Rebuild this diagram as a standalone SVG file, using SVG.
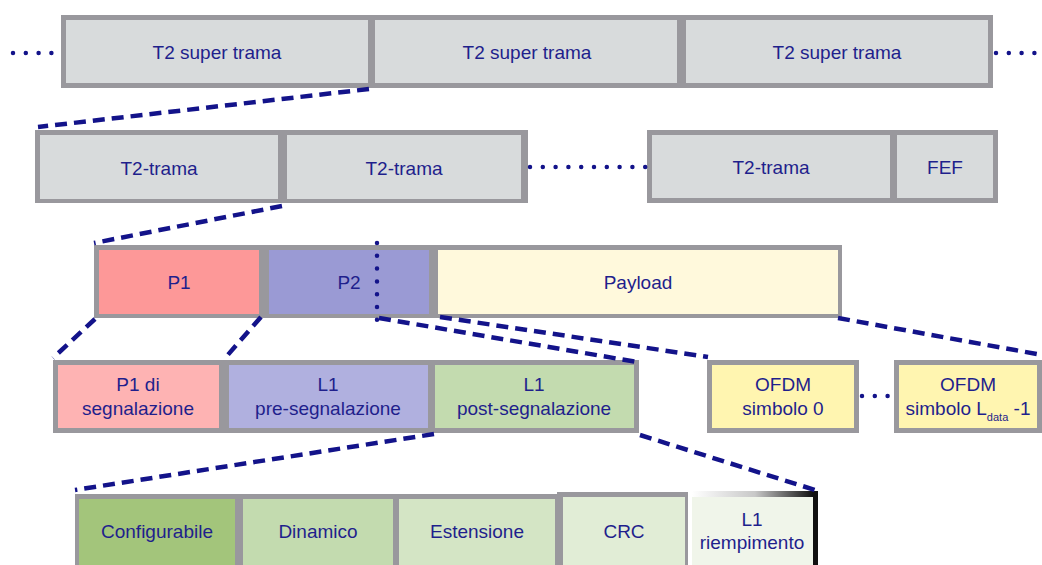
<svg xmlns="http://www.w3.org/2000/svg" width="1042" height="565" viewBox="0 0 1042 565">
<defs>
<style>
.frame{fill:#99989d}
.t{font-family:"Liberation Sans",Arial,sans-serif;font-size:19px;fill:#1f1f8c;text-anchor:middle}
.dash{stroke:#13138a;stroke-width:4.5;stroke-dasharray:12 7;fill:none}
.dot{stroke:#13138a;stroke-width:4.5;stroke-dasharray:0 12.8;stroke-linecap:round;fill:none}
.grey{fill:#d8dbdc}
</style>
<linearGradient id="fade" x1="0" y1="0" x2="1" y2="0">
<stop offset="0" stop-color="#ffffff"/>
<stop offset="0.5" stop-color="#c8c8c8"/>
<stop offset="1" stop-color="#000000"/>
</linearGradient>
</defs>
<rect width="1042" height="565" fill="#ffffff"/>

<g id="row1">
<rect class="frame" x="61" y="15" width="932" height="73"/>
<g id="superframe1"><rect class="grey" x="66" y="20" width="302" height="63"/><text class="t" x="217" y="59">T2 super trama</text></g>
<g id="superframe2"><rect class="grey" x="375" y="20" width="302" height="63"/><text class="t" x="527" y="59">T2 super trama</text></g>
<g id="superframe3"><rect class="grey" x="686" y="20" width="302" height="63"/><text class="t" x="837" y="59">T2 super trama</text></g>
</g>

<g id="row2">
<rect class="frame" x="35" y="130" width="493" height="73"/>
<rect class="frame" x="647" y="130" width="351" height="73"/>
<g id="frame1"><rect class="grey" x="40" y="135" width="238" height="64"/><text class="t" x="159" y="175">T2-trama</text></g>
<g id="frame2"><rect class="grey" x="287" y="135" width="234" height="64"/><text class="t" x="404" y="175">T2-trama</text></g>
<g id="frame3"><rect class="grey" x="652" y="135" width="238" height="63"/><text class="t" x="771" y="174">T2-trama</text></g>
<g id="fef"><rect class="grey" x="897" y="135" width="96" height="63"/><text class="t" x="945" y="174">FEF</text></g>
</g>

<g id="row3">
<rect class="frame" x="94" y="245" width="748" height="73"/>
<g id="p1"><rect x="99" y="250" width="160" height="64" fill="#fd9898"/><text class="t" x="179" y="289">P1</text></g>
<g id="p2"><rect x="269" y="250" width="160" height="64" fill="#9a9ad4"/><text class="t" x="349" y="289">P2</text></g>
<g id="payload"><rect x="438" y="250" width="400" height="64" fill="#fff9dc"/><text class="t" x="638" y="289">Payload</text></g>
</g>

<g id="row4">
<rect class="frame" x="53" y="360" width="586" height="73"/>
<g id="p1sig"><rect x="58" y="365" width="161" height="63" fill="#feb3b3"/><text class="t" x="138" y="391">P1 di</text><text class="t" x="138" y="415">segnalazione</text></g>
<g id="l1pre"><rect x="229" y="365" width="199" height="63" fill="#b0b0df"/><text class="t" x="328" y="391">L1</text><text class="t" x="328" y="415">pre-segnalazione</text></g>
<g id="l1post"><rect x="435" y="365" width="199" height="63" fill="#c3dbaf"/><text class="t" x="534" y="391">L1</text><text class="t" x="534" y="415">post-segnalazione</text></g>
<g id="ofdm0"><rect class="frame" x="707" y="360" width="152" height="73"/><rect x="712" y="365" width="142" height="63" fill="#fff5b0"/><text class="t" x="783" y="391">OFDM</text><text class="t" x="783" y="415">simbolo 0</text></g>
<g id="ofdmL"><rect class="frame" x="894" y="360" width="148" height="73"/><rect x="899" y="365" width="138" height="63" fill="#fff5b0"/><text class="t" x="968" y="391">OFDM</text><text class="t" x="968" y="415">simbolo L<tspan font-size="11" dy="6">data</tspan><tspan dy="-6"> -1</tspan></text></g>
</g>

<g id="row5">
<rect class="frame" x="75" y="494" width="483" height="71"/>
<rect class="frame" x="557" y="492" width="131" height="73"/>
<g id="configurabile"><rect x="79" y="499" width="156" height="66" fill="#a3c57b"/><text class="t" x="157" y="538">Configurabile</text></g>
<g id="dinamico"><rect x="243" y="499" width="150" height="66" fill="#c3dbaf"/><text class="t" x="318" y="538">Dinamico</text></g>
<g id="estensione"><rect x="399" y="499" width="156" height="66" fill="#d4e5c5"/><text class="t" x="477" y="538">Estensione</text></g>
<g id="crc"><rect x="563" y="497" width="122" height="68" fill="#e1edd6"/><text class="t" x="624" y="538">CRC</text></g>
<g id="l1fill"><rect x="692" y="497" width="122" height="68" fill="#f0f5ea"/><rect x="692" y="491" width="126" height="6" fill="url(#fade)"/><rect x="813" y="491" width="5" height="74" fill="#111111"/><text class="t" x="752" y="526">L1</text><text class="t" x="752" y="549">riempimento</text></g>
</g>

<g id="connectors">
<line class="dot" x1="13" y1="53" x2="56" y2="53"/>
<line class="dot" x1="996" y1="53" x2="1040" y2="53"/>
<line class="dot" x1="530" y1="167" x2="646" y2="167"/>
<line class="dot" x1="377" y1="243" x2="377" y2="320"/>
<line class="dot" x1="862" y1="396" x2="889" y2="396"/>
<line class="dash" x1="369" y1="89" x2="38" y2="127"/>
<line class="dash" x1="282" y1="206" x2="94" y2="243"/>
<line class="dash" x1="95" y1="319" x2="53" y2="358"/>
<line class="dash" x1="261" y1="317" x2="226" y2="357"/>
<line class="dash" x1="379" y1="318" x2="637" y2="362"/>
<line class="dash" x1="440" y1="317" x2="708" y2="357"/>
<line class="dash" x1="838" y1="318" x2="1042" y2="355"/>
<line class="dash" x1="434" y1="434" x2="75" y2="490"/>
<line class="dash" x1="640" y1="435" x2="815" y2="490"/>
</g>
</svg>
